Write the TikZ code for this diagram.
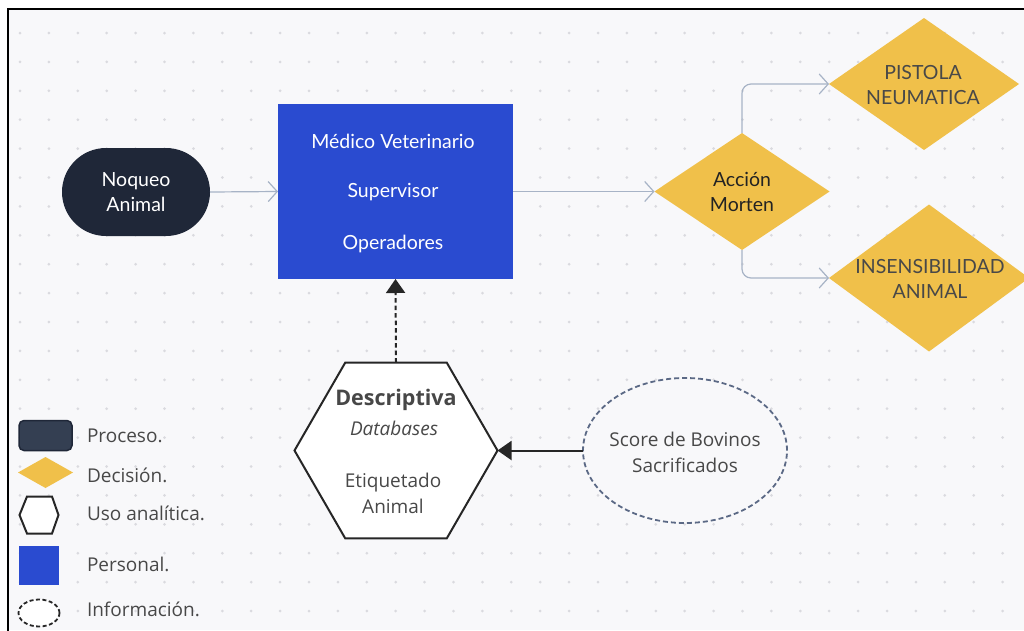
\documentclass[tikz,border=0pt]{standalone}
\usepackage{fontspec}
\usetikzlibrary{arrows.meta,shapes.geometric}
\newfontfamily\lato{Lato}
\newfontfamily\osans{Open Sans}
\definecolor{canvas}{HTML}{F8F8FA}
\definecolor{griddot}{HTML}{DADADF}
\definecolor{navy}{HTML}{1F2738}
\definecolor{navylight}{HTML}{343F52}
\definecolor{royal}{HTML}{2A4BD0}
\definecolor{gold}{HTML}{F0C04A}
\definecolor{linkgray}{HTML}{A7B3C6}
\definecolor{infoline}{HTML}{5B6985}
\definecolor{txtgray}{HTML}{484848}
\definecolor{txtdark}{HTML}{232323}
\tikzset{
  x=1pt, y=-1pt,
  every node/.style={inner sep=0pt, outer sep=0pt},
  txt/.style={align=center, font=\lato\fontsize{19.5}{25}\selectfont},
  otxt/.style={align=center, font=\osans\fontsize{19}{26}\selectfont, text=txtgray},
  decision/.style={diamond, fill=gold, inner sep=0pt},
  flow/.style={draw=linkgray, line width=1.2pt, -{Straight Barb[length=9pt,width=20pt]}},
  solidlink/.style={draw=black!85, line width=2pt, -{Triangle[length=14pt,width=19pt]}},
  legendtxt/.style={anchor=west, font=\osans\fontsize{19}{22}\selectfont, text=txtgray},
}
\begin{document}
\begin{tikzpicture}
\useasboundingbox (0,0) rectangle (1024,630);
% canvas and frame
\fill[white] (0,0) rectangle (1024,630);
\fill[canvas] (8,9) rectangle (1024,630);
\foreach \i in {0,...,34} {
  \foreach \j in {0,...,20} {
    \fill[griddot] (20+\i*28.9, 33+\j*28.9) circle (1.5pt);
  }
}
\draw[black, line width=2pt] (8,632) -- (8,9) -- (1026,9);

% process
\node[fill=navy, rounded corners=44pt, minimum width=148pt, minimum height=88pt,
      txt, text=white] (noqueo) at (136,192) {Noqueo\\Animal};

% staff box
\node[fill=royal, minimum width=235pt, minimum height=175pt] (staff) at (395.5,191.5) {};
\node[txt, text=white] (medico) at (393,141) {Médico Veterinario};
\node[txt, text=white] (superv) at (393,192) {Supervisor};
\node[txt, text=white] (operad) at (393,244) {Operadores};

% decisions
\node[decision, minimum width=175pt, minimum height=117pt] (accion) at (742,191.5) {};
\node[txt, text=txtdark] (acciontxt) at (742,192) {Acción\\Morten};
\node[decision, minimum width=190pt, minimum height=132pt] (pistola) at (924,84) {};
\node[txt, text=txtgray] (pistolatxt) at (923,85) {PISTOLA\\NEUMATICA};
\node[decision, minimum width=200pt, minimum height=147pt] (insens) at (929,278) {};
\node[txt, text=txtgray] (insenstxt) at (930,279) {INSENSIBILIDAD\\ANIMAL};

% analytics hexagon
\node[regular polygon, regular polygon sides=6, minimum size=203pt,
      draw=black!85, line width=2pt, fill=white] (hex) at (396,450.5) {};
\node[font=\osans\bfseries\fontsize{21.5}{24}\selectfont, text=black!72] (hexhead) at (396,400) {Descriptiva};
\node[font=\osans\itshape\fontsize{19}{22}\selectfont, text=txtgray] (hexsub) at (394,428) {Databases};
\node[otxt] (hexbody) at (393,493) {Etiquetado\\Animal};

% information source
\node[ellipse, draw=infoline, dashed, dash pattern=on 5pt off 3pt, line width=1.8pt,
      fill=canvas, minimum width=204pt, minimum height=145pt] (score) at (685,450.5) {};
\node[otxt] (scoretxt) at (685,452) {Score de Bovinos\\Sacrificados};

% connectors
\draw[flow] (noqueo.east) -- (staff.west);
\draw[flow] (staff.east) -- (accion.west);
\draw[flow, rounded corners=9pt] (accion.north) |- (pistola.west);
\draw[flow, rounded corners=9pt] (accion.south) |- (insens.west);
\draw[solidlink, dash pattern=on 4.5pt off 3pt] (hex.north) -- (staff.south);
\draw[solidlink] (score.west) -- (hex.east);

% legend
\node[fill=navylight, draw=navy, line width=1.5pt, rounded corners=5pt,
      minimum width=53pt, minimum height=30pt] (lgproc) at (45.5,435.5) {};
\node[legendtxt] (lgproct) at (87,436) {Proceso.};
\node[decision, minimum width=55pt, minimum height=31pt] (lgdec) at (45.5,472.5) {};
\node[legendtxt] (lgdect) at (87,475) {Decisión.};
\draw[black!85, line width=2pt, fill=white]
  (19.5,515) -- (27,496.5) -- (52,496.5) -- (58.5,515) -- (52,533.5) -- (27,533.5) -- cycle;
\node[legendtxt] (lghext) at (87,513) {Uso analítica.};
\node[fill=royal, minimum width=40pt, minimum height=39pt] (lgstaff) at (38.5,565.5) {};
\node[legendtxt] (lgstafft) at (87,564) {Personal.};
\node[ellipse, draw=black!85, dashed, dash pattern=on 4pt off 2.5pt, line width=1.8pt,
      fill=white, minimum width=41pt, minimum height=27pt] (lginfo) at (39,613) {};
\node[legendtxt] (lginfot) at (87,609) {Información.};
\end{tikzpicture}
\end{document}
